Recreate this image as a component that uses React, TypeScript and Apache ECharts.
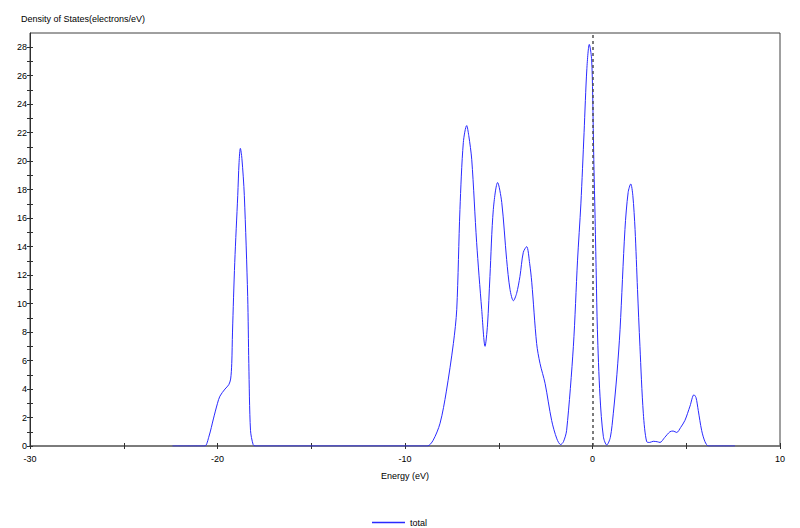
import React, { useEffect, useRef } from "react";
import * as echarts from "echarts";

const energy: number[] = [
  -22.4, -20.9, -20.67, -20.45, -20.22, -20.0, -19.87, -19.6, -19.4, -19.3, -19.24, -19.2, -19.08, -18.92, -18.85,
  -18.78, -18.7, -18.57, -18.39, -18.33, -18.24, -18.1, -18.0, -17.8,
  -9.0, -8.8, -8.5, -8.13, -7.8, -7.42, -7.24, -7.07, -6.89, -6.71, -6.6, -6.44, -6.18, -5.91, -5.73, -5.6,
  -5.47, -5.29, -5.06, -4.84, -4.58, -4.4, -4.22, -4.05, -3.87, -3.69, -3.51, -3.35, -3.24, -2.98, -2.8,
  -2.53, -2.18, -1.9, -1.7, -1.55, -1.38, -1.02, -0.8, -0.62, -0.45, -0.3, -0.17, -0.05, 0.01, 0.04, 0.08,
  0.13, 0.2, 0.26, 0.4, 0.58, 0.76, 0.95, 1.11, 1.3, 1.47, 1.73, 1.9, 2.04, 2.15, 2.27, 2.4, 2.53, 2.71,
  2.89, 3.05, 3.24, 3.45, 3.6, 3.85, 4.13, 4.3, 4.49, 4.7, 4.93, 5.2, 5.41, 5.52, 5.64, 5.82, 6.0, 6.18,
  6.35, 7.6,
];

const totalDos: number[] = [
  0, 0, 0, 0.7, 1.9, 3.0, 3.5, 4.0, 4.3, 4.7, 5.8, 8.0, 12.9, 17.6, 19.9,
  20.9, 20.2, 17.6, 10.5, 5.8, 1.1, 0.1, 0, 0,
  0, 0, 0.4, 1.6, 3.8, 7.2, 9.6, 16.6, 21.3, 22.5, 21.8, 20.1, 14.3, 9.6, 7.0, 8.5,
  11.9, 16.6, 18.5, 17.1, 13.1, 11.0, 10.2, 10.7, 11.9, 13.6, 14.0, 12.8, 11.5, 7.2, 5.8,
  4.4, 1.8, 0.5, 0.1, 0.3, 1.1, 7.0, 13.0, 17.0, 22.0, 26.5, 28.2, 27.2, 24.6, 22.3, 19.4,
  16.5, 12.0, 8.2, 3.5, 0.65, 0.07, 0.6, 2.3, 5.0, 8.2, 15.2, 17.8, 18.4, 17.6, 15.2, 11.0, 7.0, 2.3,
  0.3, 0.25, 0.33, 0.3, 0.25, 0.6, 1.0, 1.05, 0.95, 1.3, 1.8, 2.8, 3.6, 3.4, 2.5, 1.1, 0.3, 0,
  0, 0,
];

const xTickLabels: number[] = [-30, -20, -10, 0, 10];
const xTickMarks: number[] = [-30, -25, -20, -15, -10, -5, 0, 5, 10];
const yTickLabels: number[] = [0, 2, 4, 6, 8, 10, 12, 14, 16, 18, 20, 22, 24, 26, 28];
const yTickMarks: number[] = [
  0, 1, 2, 3, 4, 5, 6, 7, 8, 9, 10, 11, 12, 13, 14, 15, 16, 17, 18, 19, 20, 21, 22, 23, 24, 25, 26, 27, 28,
];
const fermiLevel = 0;

const FONT = "Liberation Sans";

export default function App() {
  const ref = useRef<HTMLDivElement>(null);
  useEffect(() => {
    if (!ref.current) return;
    const chart = echarts.init(ref.current, undefined, { renderer: "svg" });
    const data = energy.map((e, i) => [e, totalDos[i]]);
    const baseX = {
      type: "value" as const,
      min: -30,
      max: 10,
      interval: 5,
      position: "bottom" as const,
    };
    const baseY = {
      type: "value" as const,
      min: 0,
      max: 29,
      position: "left" as const,
    };
    chart.setOption({
      animation: false,
      backgroundColor: "#ffffff",
      title: {
        text: "Density of States(electrons/eV)",
        left: 16,
        top: 9,
        textStyle: { fontFamily: FONT, fontSize: 9, fontWeight: "normal", color: "#000" },
      },
      legend: {
        left: 367,
        top: 513,
        icon: "rect",
        itemWidth: 33,
        itemHeight: 1.5,
        itemGap: 10,
        data: ["total"],
        textStyle: { fontFamily: FONT, fontSize: 9, color: "#000" },
      },
      grid: {
        left: 30,
        right: 20,
        top: 33,
        bottom: 82,
        show: true,
        borderColor: "#404040",
        borderWidth: 1,
        backgroundColor: "#ffffff",
      },
      xAxis: [
        {
          ...baseX,
          name: "Energy (eV)",
          nameLocation: "middle",
          nameGap: 25,
          nameTextStyle: { fontFamily: FONT, fontSize: 9, color: "#000" },
          axisLine: { onZero: false, lineStyle: { color: "#707070", width: 1.5 } },
          axisTick: { show: true, length: 3, customValues: xTickMarks, lineStyle: { color: "#303030" } },
          axisLabel: {
            customValues: xTickLabels,
            margin: 8,
            fontFamily: FONT,
            fontSize: 9,
            color: "#000",
          },
          splitLine: { show: false },
        },
        {
          ...baseX,
          axisLine: { show: false, onZero: false },
          axisTick: { show: true, inside: true, length: 3, customValues: xTickMarks, lineStyle: { color: "#303030" } },
          axisLabel: { show: false },
          splitLine: { show: false },
        },
      ],
      yAxis: [
        {
          ...baseY,
          axisLine: { show: true, onZero: false, lineStyle: { color: "#303030" } },
          axisTick: { show: true, length: 3, customValues: yTickMarks, lineStyle: { color: "#303030" } },
          axisLabel: {
            customValues: yTickLabels,
            margin: 3,
            fontFamily: FONT,
            fontSize: 9,
            color: "#000",
          },
          splitLine: { show: false },
        },
        {
          ...baseY,
          axisLine: { show: false, onZero: false },
          axisTick: { show: true, inside: true, length: 3, customValues: yTickMarks, lineStyle: { color: "#303030" } },
          axisLabel: { show: false },
          splitLine: { show: false },
        },
      ],
      series: [
        {
          name: "total",
          type: "line",
          xAxisIndex: 0,
          yAxisIndex: 0,
          data,
          smooth: 0.3,
          showSymbol: false,
          symbol: "none",
          color: "#2a2aff",
          lineStyle: { color: "#2a2aff", width: 1 },
          markLine: {
            silent: true,
            symbol: "none",
            label: { show: false },
            lineStyle: { type: [3, 3], color: "#505050", width: 1.5 },
            data: [{ xAxis: fermiLevel }],
          },
        },
      ],
    });
    return () => chart.dispose();
  }, []);
  return (
    <div
      ref={ref}
      style={{ position: "absolute", left: 0, top: 0, width: 800, height: 528 }}
    />
  );
}
